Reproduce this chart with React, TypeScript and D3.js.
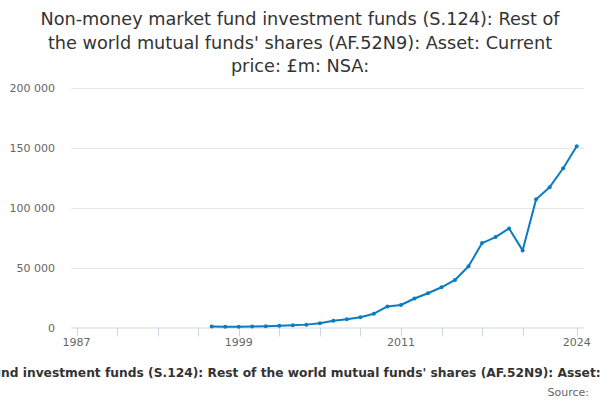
import React, { useRef, useEffect } from 'react';
import * as d3 from 'd3';

const years = [
  1997, 1998, 1999, 2000, 2001, 2002, 2003, 2004, 2005, 2006, 2007, 2008, 2009, 2010,
  2011, 2012, 2013, 2014, 2015, 2016, 2017, 2018, 2019, 2020, 2021, 2022, 2023, 2024
];
const values = [
  900, 700, 700, 900, 1100, 1400, 1800, 2400, 3500, 5700, 6800, 8500, 11500, 17600,
  18800, 24200, 28600, 33600, 39700, 51100, 70500, 75500, 82700, 64400, 107200, 117200, 133000, 151300
];
const yTicks = [0, 50000, 100000, 150000, 200000];
const xMinorTicks = [1987, 1990, 1993, 1996, 1999, 2002, 2005, 2008, 2011, 2014, 2017, 2020, 2024];
const xLabelTicks = [1987, 1999, 2011, 2024];
const titleLines = [
  'Non-money market fund investment funds (S.124): Rest of',
  "the world mutual funds' shares (AF.52N9): Asset: Current",
  'price: £m: NSA:'
];
const axisTitle =
  "Non-money market fund investment funds (S.124): Rest of the world mutual funds' shares (AF.52N9): Asset: Current price: £m: NSA:";

const W = 600;
const H = 400;

const App: React.FC = () => {
  const ref = useRef<SVGSVGElement | null>(null);

  useEffect(() => {
    if (!ref.current) return;
    const svg = d3.select(ref.current);
    svg.selectAll('*').remove();

    const font = '"DejaVu Sans", sans-serif';
    const plot = { left: 71, right: 584, top: 88, bottom: 327.5 };

    const x = d3.scaleLinear().domain([1987, 2024]).range([76.5, 576.7]);
    const y = d3.scaleLinear().domain([0, 200000]).range([plot.bottom, plot.top]);

    svg.append('rect').attr('width', W).attr('height', H).attr('fill', '#ffffff');

    // title
    svg
      .append('g')
      .selectAll('text')
      .data(titleLines)
      .join('text')
      .attr('x', W / 2)
      .attr('y', (_, i) => 25 + i * 23.5)
      .attr('text-anchor', 'middle')
      .attr('font-family', font)
      .attr('font-size', '17.7px')
      .attr('fill', '#333333')
      .text(d => d);

    // grid
    svg
      .append('g')
      .selectAll('line')
      .data(yTicks.filter(t => t > 0))
      .join('line')
      .attr('x1', plot.left)
      .attr('x2', plot.right)
      .attr('y1', d => Math.round(y(d)) + 0.5)
      .attr('y2', d => Math.round(y(d)) + 0.5)
      .attr('stroke', '#e6e6e6')
      .attr('stroke-width', 1);

    // y labels
    svg
      .append('g')
      .selectAll('text')
      .data(yTicks)
      .join('text')
      .attr('x', 55)
      .attr('y', d => y(d) + 4)
      .attr('text-anchor', 'end')
      .attr('font-family', font)
      .attr('font-size', '11px')
      .attr('fill', '#666666')
      .text(d => d3.format(',')(d).replace(/,/g, ' '));

    // x axis
    const axisG = svg.append('g');
    axisG
      .append('line')
      .attr('x1', plot.left)
      .attr('x2', plot.right)
      .attr('y1', plot.bottom + 0.5)
      .attr('y2', plot.bottom + 0.5)
      .attr('stroke', '#ccd6eb');
    axisG
      .selectAll('line.tick')
      .data(xMinorTicks)
      .join('line')
      .attr('class', 'tick')
      .attr('x1', d => Math.round(x(d)) + 0.5)
      .attr('x2', d => Math.round(x(d)) + 0.5)
      .attr('y1', plot.bottom)
      .attr('y2', plot.bottom + 9)
      .attr('stroke', '#ccd6eb');
    axisG
      .selectAll('text')
      .data(xLabelTicks)
      .join('text')
      .attr('x', d => x(d))
      .attr('y', 345.5)
      .attr('text-anchor', 'middle')
      .attr('font-family', font)
      .attr('font-size', '11px')
      .attr('fill', '#666666')
      .text(d => String(d));

    // axis title: long, runs past both edges like the reference
    const at = svg
      .append('text')
      .attr('x', 0)
      .attr('y', 376.5)
      .attr('text-anchor', 'start')
      .attr('font-family', font)
      .attr('font-size', '12px')
      .attr('font-weight', 'bold')
      .attr('fill', '#333333')
      .text(axisTitle);
    const node = at.node() as SVGTextElement;
    const startIdx = axisTitle.indexOf('nd investment');
    const endIdx = axisTitle.indexOf(': Current');
    try {
      const pre = node.getSubStringLength(0, startIdx);
      const upTo = node.getSubStringLength(0, endIdx);
      const fs = (12 * 595) / (upTo - pre);
      at.attr('font-size', `${fs}px`).attr('x', 1 - (pre * fs) / 12);
    } catch (e) {
      at.attr('x', 327).attr('text-anchor', 'middle');
    }

    // source
    svg
      .append('text')
      .attr('x', 589)
      .attr('y', 396)
      .attr('text-anchor', 'end')
      .attr('font-family', font)
      .attr('font-size', '11px')
      .attr('fill', '#666666')
      .text('Source:');

    const data = years.map((yr, i) => ({ yr, v: values[i] }));
    const line = d3
      .line<{ yr: number; v: number }>()
      .x(d => x(d.yr))
      .y(d => y(d.v));

    svg
      .append('path')
      .datum(data)
      .attr('fill', 'none')
      .attr('stroke', '#0b7cc1')
      .attr('stroke-width', 2)
      .attr('stroke-linejoin', 'round')
      .attr('d', line);

    svg
      .append('g')
      .selectAll('circle')
      .data(data)
      .join('circle')
      .attr('cx', d => x(d.yr))
      .attr('cy', d => y(d.v))
      .attr('r', 2)
      .attr('fill', '#0b7cc1');
  }, []);

  return (
    <svg
      ref={ref}
      width={W}
      height={H}
      viewBox={`0 0 ${W} ${H}`}
      style={{ position: 'absolute', left: 0, top: 0, display: 'block' }}
    />
  );
};

export default App;
